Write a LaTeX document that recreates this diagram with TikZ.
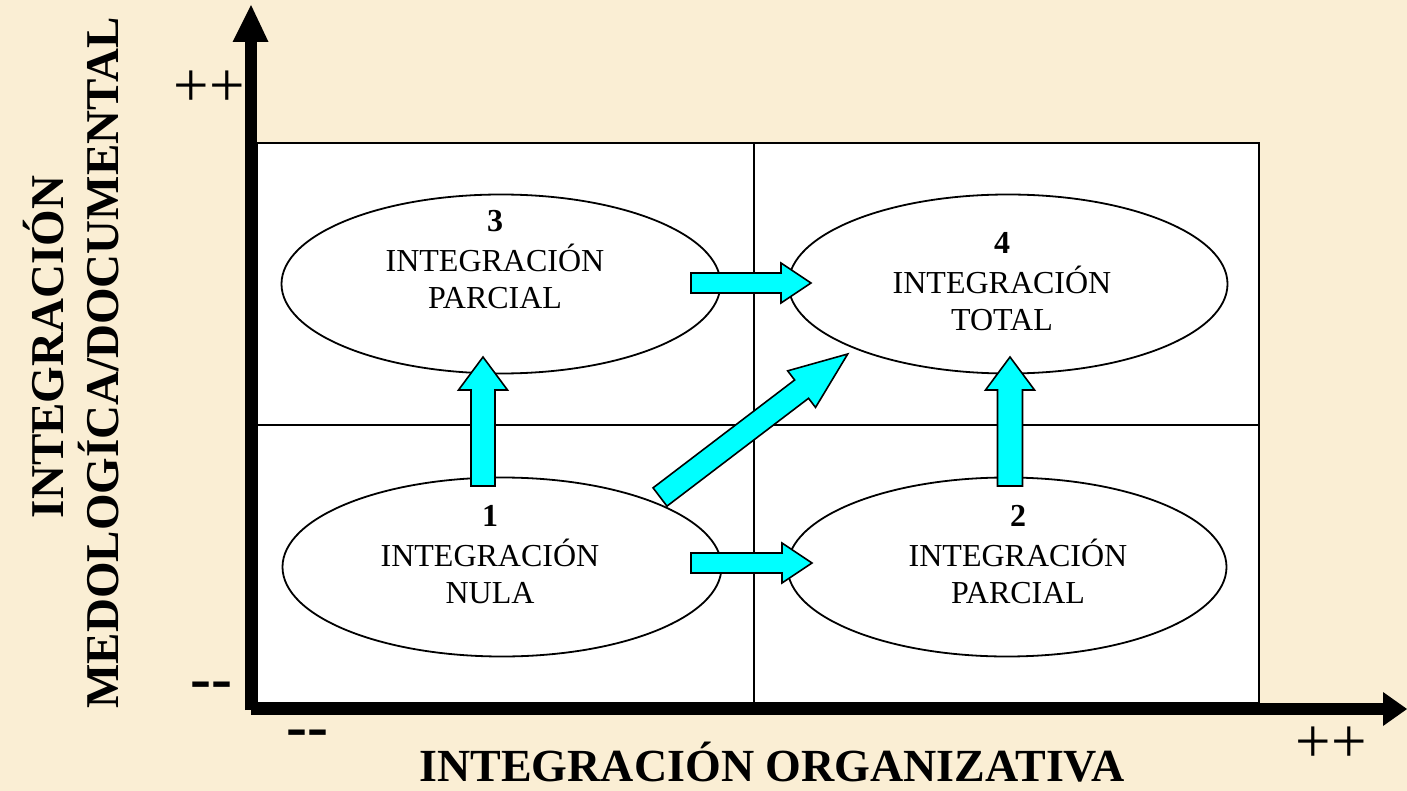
\documentclass[tikz,border=0pt]{standalone}
\usepackage{fontspec}
\setmainfont{Liberation Serif}
\usetikzlibrary{shapes.geometric}
\definecolor{papel}{RGB}{250,238,212}
\definecolor{flecha}{RGB}{0,255,255}
\tikzset{pics/bloque/.style args={#1/#2/#3/#4}{code={
  \draw[fill=flecha, line width=1.6pt, line join=miter]
    (0,-#3) -- (#1-#2,-#3) -- (#1-#2,-#4) -- (#1,0) -- (#1-#2,#4) -- (#1-#2,#3) -- (0,#3) -- cycle;
}}}

\begin{document}
\begin{tikzpicture}[x=1pt,y=-1pt]
          \tikzstyle{every node} = [inner sep=0pt, outer sep=0pt];
          \fill[papel] (0,0) rectangle (1407,791);
          \useasboundingbox (0,0) rectangle (1407,791);
          % cuadrantes
          \draw[fill=white, line width=1.4pt] (257,143) rectangle (1259,703);
          \draw[line width=1.4pt] (754,143) -- (754,703);
          \draw[line width=1.4pt] (257,425) -- (1259,425);
          % ejes
          \draw[line width=12pt] (251,710) -- (251,40);
          \fill (232.5,42) -- (251,5) -- (268.5,42) -- cycle;
          \draw[line width=12pt] (251,709) -- (1385,709);
          \fill (1383,692) -- (1407,709) -- (1383,726) -- cycle;
          \tikzstyle{every node} = [draw, ellipse, fill=white, line width=1.8pt, inner sep=0pt, minimum width=439pt, minimum height=179pt];
          \node(e3) at (501,284) {};
          \node(e4) at (1008,284) {};
          \node(e1) at (502,567) {};
          \node(e2) at (1007,567) {};
          % flechas
          \pic at (483,486) [rotate=90] {bloque=129/33/12/24.5};
          \pic at (1010,486) [rotate=90] {bloque=129/33/12.5/24.5};
          \pic at (691,283) {bloque=120/30/10/20};
          \pic at (691,563) {bloque=121/30/10/20};
          \pic at (660,497) [rotate=37.3] {bloque=236/58/11.5/23};
          \tikzstyle{every node} = [align=center, inner sep=0pt, font=\fontsize{32}{37}\selectfont]
          \node(t3) at (495,260) {\textbf{3}\\[3pt]INTEGRACIÓN\\PARCIAL};
          \node(t4) at (1002,282) {\textbf{4}\\[3pt]INTEGRACIÓN\\TOTAL};
          \node(t1) at (490,555) {\textbf{1}\\[3pt]INTEGRACIÓN\\NULA};
          \node(t2) at (1018,555) {\textbf{2}\\[3pt]INTEGRACIÓN\\PARCIAL};
          \tikzstyle{every node} = [inner sep=0pt, font=\fontsize{63}{63}\selectfont]
          \node(masy) at (209,89) {++};
          \node(masx) at (1331,745) {++};
          \node[anchor=base](menosy) at (211,699) {\bfseries -{}-};
          \node[anchor=base](menosx) at (307,747) {\bfseries -{}-};
          \tikzstyle{every node} = [inner sep=0pt, font=\fontsize{47}{47}\selectfont\bfseries]
          \node[anchor=base, font=\fontsize{46}{46}\selectfont\bfseries](ejex) at (772,781) {INTEGRACIÓN ORGANIZATIVA};
          \node[anchor=base, rotate=90](ejey1) at (63,347) {INTEGRACIÓN};
          \node[anchor=base, rotate=90](ejey2) at (118,363) {MEDOLOGÍCA/DOCUMENTAL};
\end{tikzpicture}
\end{document}
